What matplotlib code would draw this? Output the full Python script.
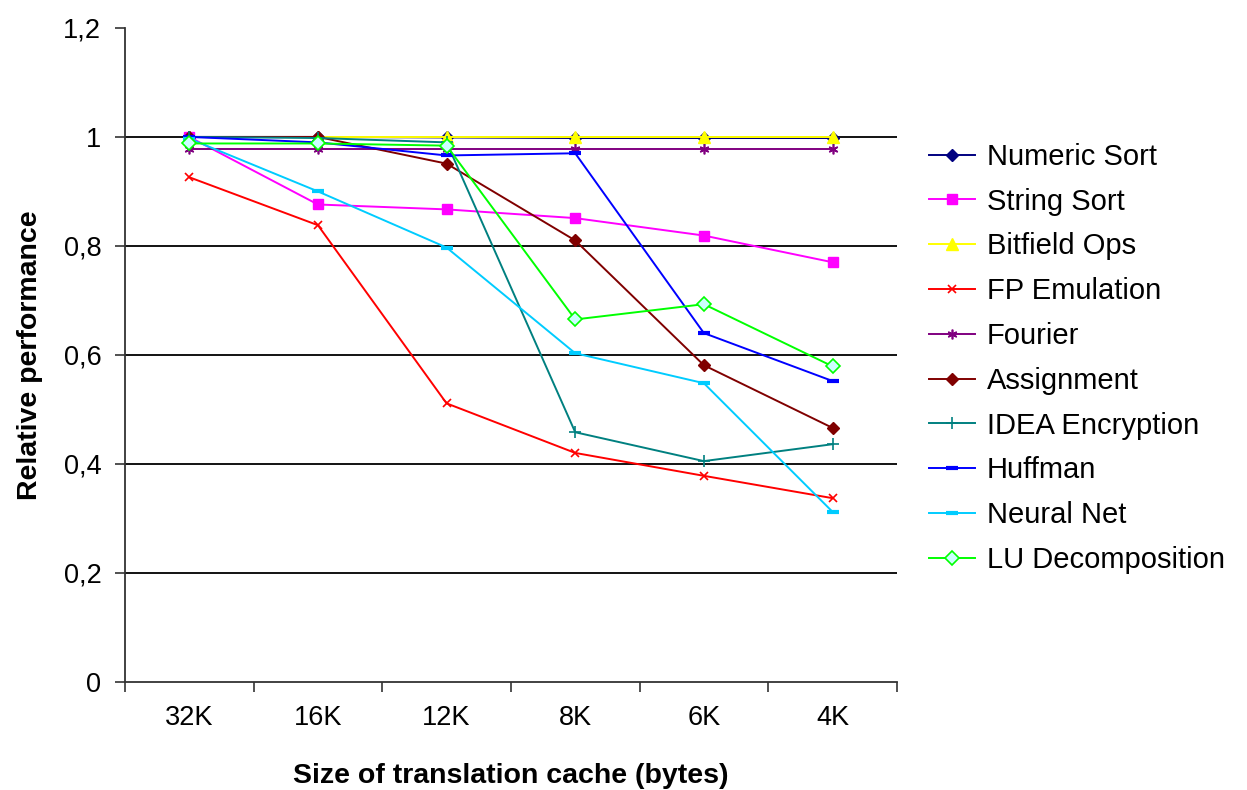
import matplotlib
matplotlib.use("Agg")
import matplotlib.pyplot as plt
from matplotlib.ticker import FixedLocator, FuncFormatter

plt.rcParams['font.family'] = ['Liberation Sans', 'DejaVu Sans']

cache_sizes = ["32K", "16K", "12K", "8K", "6K", "4K"]

numeric_sort = [1.000, 1.000, 0.999, 0.998, 0.998, 0.998]
string_sort = [1.000, 0.876, 0.867, 0.851, 0.819, 0.770]
bitfield_ops = [1.000, 1.000, 1.000, 1.000, 1.000, 1.000]
fp_emulation = [0.926, 0.838, 0.511, 0.420, 0.378, 0.337]
fourier = [0.977, 0.977, 0.977, 0.977, 0.977, 0.977]
assignment = [1.000, 1.000, 0.951, 0.810, 0.581, 0.466]
idea_encryption = [1.000, 0.998, 0.990, 0.458, 0.405, 0.436]
huffman = [1.000, 0.990, 0.966, 0.970, 0.640, 0.552]
neural_net = [0.997, 0.900, 0.797, 0.603, 0.548, 0.312]
lu_decomposition = [0.988, 0.988, 0.984, 0.665, 0.693, 0.579]

series = [
    ("Numeric Sort", numeric_sort, "#000080", dict(marker="D", ms=6, mfc="#000080", mec="#000080")),
    ("String Sort", string_sort, "#FF00FF", dict(marker="s", ms=7, mfc="#FF00FF", mec="#FF00FF")),
    ("Bitfield Ops", bitfield_ops, "#FFFF00", dict(marker="^", ms=8, mfc="#FFFF00", mec="#FFFF00")),
    ("FP Emulation", fp_emulation, "#FF0000", dict(marker="x", ms=6, mew=1.2, mec="#FF0000")),
    ("Fourier", fourier, "#800080", dict(marker=(6, 2, 0), ms=7, mew=1.2, mec="#800080")),
    ("Assignment", assignment, "#800000", dict(marker="D", ms=6, mfc="#800000", mec="#800000")),
    ("IDEA Encryption", idea_encryption, "#008080", dict(marker="+", ms=8, mew=1.2, mec="#008080")),
    ("Huffman", huffman, "#0000FF", dict(marker="_", ms=8, mew=3, mec="#0000FF")),
    ("Neural Net", neural_net, "#00CCFF", dict(marker="_", ms=8, mew=3, mec="#00CCFF")),
    ("LU Decomposition", lu_decomposition, "#00FF00", dict(marker="D", ms=7, mfc="#CCFFFF", mec="#00FF00", mew=1.2)),
]

fig = plt.figure(figsize=(12.47, 7.90), dpi=100)
ax = fig.add_axes([0.1002, 0.137, 0.6190, 0.8276])

x = list(range(len(cache_sizes)))
for name, vals, color, style in series:
    ax.plot(x, vals, color=color, lw=1.4, label=name, **style)

ax.set_xlim(-0.5, len(cache_sizes) - 0.5)
ax.set_ylim(0, 1.2)

ax.yaxis.set_major_locator(FixedLocator([0, 0.2, 0.4, 0.6, 0.8, 1.0, 1.2]))
ax.yaxis.set_major_formatter(FuncFormatter(
    lambda v, p: "0" if abs(v) < 1e-9 else ("1" if abs(v - 1) < 1e-9 else f"{v:.1f}".replace(".", ","))))
for yv in [0.2, 0.4, 0.6, 0.8, 1.0]:
    ax.axhline(yv, color="black", lw=1.3, zorder=0)

ax.set_xticks(x)
ax.set_xticklabels(cache_sizes)
ax.set_xticks([i - 0.5 for i in range(len(cache_sizes) + 1)], minor=True)
ax.tick_params(axis="x", which="major", length=0, pad=17, labelsize=19.5)
ax.tick_params(axis="x", which="minor", length=7, width=1.2, direction="out", color="#333333")
ax.tick_params(axis="y", which="major", length=7, width=1.2, direction="out", labelsize=19.5, pad=10, color="#333333")

for side in ["top", "right"]:
    ax.spines[side].set_visible(False)
for side in ["left", "bottom"]:
    ax.spines[side].set_color("#333333")
    ax.spines[side].set_linewidth(1.3)

ax.set_xlabel("Size of translation cache (bytes)", fontsize=20.5, fontweight="bold", labelpad=23)
ax.set_ylabel("Relative performance", fontsize=20.5, fontweight="bold", labelpad=15)

ax.legend(loc="upper left", bbox_to_anchor=(1.026, 0.842), frameon=False, fontsize=21,
          handlelength=1.6, handletextpad=0.4, labelspacing=0.575, borderaxespad=0)

fig.savefig("out.png", dpi=100, facecolor="white")
